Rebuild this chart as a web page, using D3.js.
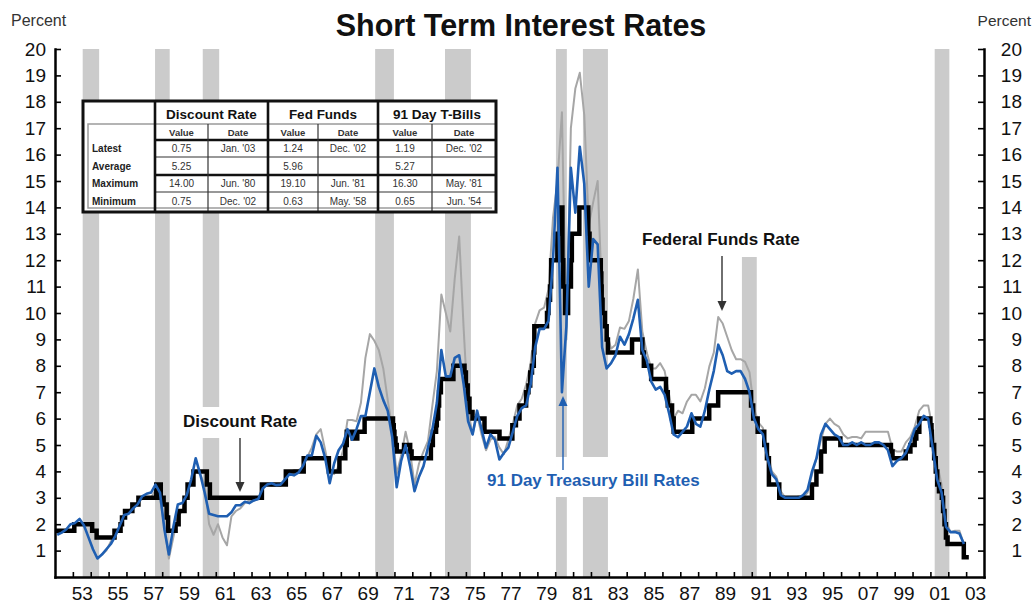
<!DOCTYPE html>
<html>
<head>
<meta charset="utf-8">
<script src="https://cdn.jsdelivr.net/npm/d3@7"></script>
<style>
  body { margin: 0; background: #fff; }
  svg { display: block; font-family: "Liberation Sans", Arial, Helvetica, sans-serif; }
</style>
</head>
<body>
<svg id="chart" width="1034" height="603"></svg>
<script>
// ---- data ----

// recession shading, decimal years
const recessionStart = [1953.55, 1957.6, 1960.27, 1969.92, 1973.83, 1980.04, 1981.55, 1990.45, 2001.24];
const recessionEnd   = [1954.47, 1958.42, 1961.19, 1970.97, 1975.28, 1980.65, 1982.95, 1991.28, 2002.06];

// discount rate: date of each change and the new level (step line)
const discountDates = [1952.0, 1953.08, 1954.08, 1954.33, 1955.33, 1955.67, 1955.75, 1955.92, 1956.33, 1956.67,
  1957.67, 1957.92, 1958.08, 1958.25, 1958.33, 1958.75, 1958.92, 1959.25, 1959.42, 1959.75,
  1960.5, 1960.67, 1963.58, 1964.92, 1965.92, 1967.33, 1967.92, 1968.25, 1968.33, 1968.67,
  1968.92, 1969.33, 1970.92, 1970.96, 1971.0, 1971.06, 1971.13, 1971.54, 1971.88, 1971.96,
  1973.04, 1973.15, 1973.33, 1973.37, 1973.45, 1973.5, 1973.6, 1974.3, 1974.92, 1975.0,
  1975.1, 1975.2, 1975.37, 1976.04, 1976.88, 1977.6, 1977.8, 1978.0, 1978.37, 1978.5,
  1978.6, 1978.7, 1978.8, 1978.83, 1979.54, 1979.62, 1979.71, 1979.77, 1980.12, 1980.25,
  1980.4, 1980.45, 1980.55, 1980.72, 1980.88, 1980.93, 1981.35, 1981.85, 1981.92, 1982.55,
  1982.58, 1982.6, 1982.65, 1982.78, 1982.88, 1982.95, 1984.3, 1984.88, 1984.96, 1985.37,
  1986.2, 1986.3, 1986.54, 1986.63, 1987.67, 1988.62, 1989.12, 1990.96, 1991.08, 1991.33,
  1991.7, 1991.85, 1991.96, 1992.54, 1994.37, 1994.62, 1994.88, 1995.08, 1995.96, 1998.79,
  1998.88, 1999.62, 1999.88, 2000.12, 2000.21, 2000.38, 2001.0, 2001.06, 2001.08, 2001.21,
  2001.3, 2001.38, 2001.48, 2001.64, 2001.71, 2001.79, 2001.87, 2001.96, 2002.87, 2003.15];
const discountRates = [1.75, 2.0, 1.75, 1.5, 1.75, 2.0, 2.25, 2.5, 2.75, 3.0,
  3.5, 3.0, 2.75, 2.25, 1.75, 2.0, 2.5, 3.0, 3.5, 4.0,
  3.5, 3.0, 3.5, 4.0, 4.5, 4.0, 4.5, 5.0, 5.5, 5.25,
  5.5, 6.0, 5.75, 5.5, 5.25, 5.0, 4.75, 5.0, 4.75, 4.5,
  5.0, 5.5, 5.75, 6.0, 6.5, 7.0, 7.5, 8.0, 7.75, 7.25,
  6.75, 6.25, 6.0, 5.5, 5.25, 5.75, 6.0, 6.5, 7.0, 7.25,
  7.75, 8.0, 8.5, 9.5, 10.0, 10.5, 11.0, 12.0, 13.0, 14.0,
  12.0, 11.0, 10.0, 11.0, 12.0, 13.0, 14.0, 13.0, 12.0, 11.5,
  11.0, 10.5, 10.0, 9.5, 9.0, 8.5, 9.0, 8.5, 8.0, 7.5,
  7.0, 6.5, 6.0, 5.5, 6.0, 6.5, 7.0, 6.5, 6.0, 5.5,
  5.0, 4.5, 3.5, 3.0, 3.5, 4.0, 4.75, 5.25, 5.0, 4.75,
  4.5, 4.75, 5.0, 5.25, 5.5, 6.0, 5.75, 5.5, 5.0, 4.5,
  4.0, 3.5, 3.25, 3.0, 2.5, 2.0, 1.5, 1.25, 0.75, 0.75];

// 91 day T-bill, quarterly from 1952 Q1
const tbillStart = 1952;
const tbillRates = [
  1.60, 1.68, 1.80, 2.00,  2.05, 2.20, 1.95, 1.50,  1.05, 0.70, 0.85, 1.05,  1.25, 1.55, 1.95, 2.35,
  2.40, 2.60, 2.75, 3.05,  3.15, 3.20, 3.50, 3.20,  1.80, 0.85, 1.90, 2.75,  2.80, 3.10, 3.70, 4.50,
  3.90, 3.20, 2.40, 2.35,  2.30, 2.30, 2.30, 2.45,  2.72, 2.72, 2.85, 2.80,  2.90, 2.95, 3.35, 3.50,
  3.55, 3.48, 3.50, 3.70,  3.90, 3.85, 3.95, 4.20,  4.60, 4.60, 5.35, 5.10,  4.50, 3.55, 4.30, 4.80,
  5.05, 5.60, 5.20, 5.60,  6.10, 6.10, 7.00, 7.90,  7.20, 6.70, 6.30, 5.30,  3.40, 4.40, 5.00, 4.20,
  3.25, 3.80, 4.20, 4.90,  5.60, 6.60, 8.60, 7.60,  7.60, 8.30, 8.40, 7.30,  5.90, 5.40, 6.30, 5.60,
  4.90, 5.40, 5.20, 4.45,  4.70, 4.90, 5.50, 6.10,  6.40, 6.50, 7.30, 8.70,  9.40, 9.40, 9.70, 12.00,
  15.50, 7.00, 9.50, 15.50,  13.80, 16.30, 14.90, 11.00,  12.80, 12.60, 8.70, 7.90,  8.10, 8.40, 9.10, 8.80,
  9.20, 9.80, 10.50, 8.60,  8.20, 7.40, 7.10, 7.20,  6.90, 6.20, 5.40, 5.30,  5.50, 5.70, 6.20, 5.80,
  5.70, 6.30, 7.10, 7.80,  8.80, 8.40, 7.80, 7.70,  7.80, 7.80, 7.50, 7.00,  6.00, 5.60, 5.40, 4.50,
  3.90, 3.70, 3.10, 3.00,  3.00, 3.00, 3.00, 3.10,  3.30, 4.00, 4.50, 5.40,  5.80, 5.60, 5.40, 5.30,
  5.00, 5.00, 5.10, 5.00,  5.10, 5.00, 5.00, 5.10,  5.10, 5.00, 4.80, 4.20,  4.40, 4.50, 4.70, 5.10,
  5.60, 5.80, 6.10, 6.00,  4.90, 3.70, 3.20, 1.90,  1.70, 1.70, 1.65, 1.25];

// fed funds, quarterly from 1954 Q3
const fedFundsStart = 1954.5;
const fedFundsRates = [
  0.85, 1.00,
  1.35, 1.55, 1.95, 2.35,  2.50, 2.70, 2.80, 2.95,  2.95, 3.00, 3.30, 3.00,  1.90, 0.70, 1.50, 2.30,
  2.50, 3.10, 3.60, 4.00,  3.90, 3.50, 2.00, 1.60,  2.00, 1.50, 1.20, 2.30,  2.50, 2.60, 2.80, 2.90,
  2.90, 2.95, 3.35, 3.50,  3.45, 3.45, 3.45, 3.60,  3.95, 4.05, 4.05, 4.15,  4.55, 4.90, 5.40, 5.60,
  4.80, 3.95, 3.90, 4.20,  4.80, 5.95, 5.95, 5.90,  6.60, 8.30, 9.20, 8.95,  8.60, 7.90, 6.70, 5.60,
  3.90, 4.60, 5.50, 4.75,  3.50, 4.30, 4.75, 5.15,  6.50, 7.80, 10.70, 10.00,  9.30, 11.30, 12.90, 9.40,
  6.30, 5.40, 6.15, 5.40,  4.80, 5.20, 5.30, 4.90,  4.65, 5.20, 5.80, 6.50,  6.75, 7.30, 8.10, 9.60,
  10.10, 10.20, 10.90, 13.60,  15.00, 17.60, 9.00, 17.00,  18.50, 19.10, 17.50, 13.30,  14.20, 15.00, 10.50, 9.30,
  8.65, 8.80, 9.45, 9.40,  9.70, 10.55, 11.65, 9.30,  8.50, 7.90, 7.90, 8.10,  7.80, 6.90, 6.00, 6.30,
  6.20, 6.65, 6.90, 6.90,  6.65, 7.15, 7.98, 8.50,  9.85, 9.60, 9.10, 8.60,  8.25, 8.25, 8.15, 7.75,
  6.40, 5.85, 5.65, 4.80,  4.00, 3.80, 3.25, 3.00,  3.00, 3.00, 3.05, 3.00,  3.20, 3.90, 4.50, 5.20,
  5.80, 6.00, 5.80, 5.70,  5.40, 5.25, 5.30, 5.30,  5.25, 5.50, 5.50, 5.50,  5.50, 5.50, 5.50, 4.85,
  4.75, 4.75, 5.10, 5.30,  5.70, 6.30, 6.50, 6.50,  5.60, 4.30, 3.50, 2.10,  1.70, 1.75, 1.75, 1.24];

// axis ticks
const yTicks = d3.range(1, 21);
const xTickYears = d3.range(1953, 2004);
const xLabelYears = d3.range(1953, 2004, 2);
const xLabels = ["53", "55", "57", "59", "61", "63", "65", "67", "69", "71", "73", "75", "77",
                 "79", "81", "83", "85", "87", "89", "91", "93", "95", "07", "99", "01", "03"];

// summary table
const tableGroups = ["Discount Rate", "Fed Funds", "91 Day T-Bills"];
const tableRows = ["Latest", "Average", "Maximum", "Minimum"];
const discountCells = [["0.75", "Jan. '03"], ["5.25", ""], ["14.00", "Jun. '80"], ["0.75", "Dec. '02"]];
const fedFundsCells = [["1.24", "Dec. '02"], ["5.96", ""], ["19.10", "Jun. '81"], ["0.63", "May. '58"]];
const tbillCells    = [["1.19", "Dec. '02"], ["5.27", ""], ["16.30", "May. '81"], ["0.65", "Jun. '54"]];

// ---- chart ----
const svg = d3.select("#chart");
const W = 1034, H = 603;
const plotLeft = 55, plotRight = 984, plotTop = 49, plotBottom = 577;

const x = d3.scaleLinear().domain([1952, 2004]).range([plotLeft, plotRight]);
const y = d3.scaleLinear().domain([0, 20]).range([plotBottom, plotTop]);

const blue = "#1f5fb2";

svg.append("rect").attr("width", W).attr("height", H).attr("fill", "#fff");

// recession bars
svg.append("g").selectAll("rect")
  .data(recessionStart.map((s, i) => ({ s, e: recessionEnd[i] })))
  .join("rect")
  .attr("x", d => x(d.s))
  .attr("width", d => x(d.e) - x(d.s))
  .attr("y", y(20))
  .attr("height", y(0) - y(20))
  .attr("fill", "#cbcbcb");

// white patches behind annotations
const patches = [[178, 407, 126, 31], [636, 49, 172, 208], [480, 464, 228, 33]];
svg.append("g").selectAll("rect").data(patches).join("rect")
  .attr("x", d => d[0]).attr("y", d => d[1]).attr("width", d => d[2]).attr("height", d => d[3])
  .attr("fill", "#fff");
// gap in the 1980-82 bars above the blue label
svg.append("rect").attr("x", 540).attr("y", 457).attr("width", 80).attr("height", 8).attr("fill", "#fff");

// series
const fedFunds = fedFundsRates.map((v, i) => ({ t: fedFundsStart + i * 0.25 + 0.125, v }));
const tbill = tbillRates.map((v, i) => ({ t: tbillStart + i * 0.25 + 0.125, v }));
const discount = discountDates.map((t, i) => ({ t, v: discountRates[i] }));

const line = d3.line().x(d => x(d.t)).y(d => y(d.v));

svg.append("path").datum(fedFunds)
  .attr("d", line)
  .attr("fill", "none").attr("stroke", "#a6a6a6").attr("stroke-width", 2)
  .attr("stroke-linejoin", "round");

svg.append("path").datum(discount)
  .attr("d", line.curve(d3.curveStepAfter))
  .attr("fill", "none").attr("stroke", "#000").attr("stroke-width", 4.5)
  .attr("stroke-linejoin", "miter");

line.curve(d3.curveLinear);
svg.append("path").datum(tbill)
  .attr("d", line)
  .attr("fill", "none").attr("stroke", blue).attr("stroke-width", 2.6)
  .attr("stroke-linejoin", "round");

// axes
const styleAxis = g => {
  g.select(".domain").attr("stroke", "#000").attr("stroke-width", 2.5).attr("stroke-linecap", "square");
  g.selectAll(".tick line").attr("stroke", "#000").attr("stroke-width", 1.6);
  g.selectAll(".tick text").attr("font-size", 19).attr("fill", "#111")
    .attr("font-family", "Liberation Sans, Arial, sans-serif");
};

svg.append("g")
  .attr("transform", `translate(${plotLeft},0)`)
  .call(d3.axisLeft(y).tickValues(yTicks).tickSizeInner(-6).tickSizeOuter(0).tickPadding(9))
  .call(styleAxis);

svg.append("g")
  .attr("transform", `translate(${plotRight},0)`)
  .call(d3.axisRight(y).tickValues(yTicks).tickSizeInner(-6).tickSizeOuter(0).tickPadding(9))
  .call(styleAxis)
  .call(g => g.selectAll(".tick text").attr("text-anchor", "end").attr("x", 38));

svg.append("g")
  .attr("transform", `translate(0,${plotBottom})`)
  .call(d3.axisBottom(x).tickValues(xTickYears).tickSizeInner(-5).tickSizeOuter(0).tickFormat(""))
  .call(styleAxis);

svg.append("g")
  .attr("transform", `translate(0,${plotBottom})`)
  .call(d3.axisBottom(x).tickValues(xLabelYears.map(d => d + 0.5)).tickSize(0).tickPadding(10)
    .tickFormat((d, i) => xLabels[i]))
  .call(styleAxis)
  .call(g => g.select(".domain").remove());

// titles
svg.append("text").attr("x", 521).attr("y", 36).attr("text-anchor", "middle")
  .attr("font-size", 30.5).attr("font-weight", "bold").attr("fill", "#111")
  .text("Short Term Interest Rates");
svg.append("text").attr("x", 11).attr("y", 26).attr("font-size", 16).attr("fill", "#333").text("Percent");
svg.append("text").attr("x", 1031).attr("y", 26).attr("text-anchor", "end")
  .attr("font-size", 15.5).attr("fill", "#333").text("Percent");

// annotations
const annot = svg.append("g").attr("font-size", 17).attr("font-weight", "bold");
annot.append("text").attr("x", 183).attr("y", 427).attr("fill", "#111").text("Discount Rate");
annot.append("text").attr("x", 642).attr("y", 245).attr("fill", "#111").text("Federal Funds Rate");
annot.append("text").attr("x", 487).attr("y", 486).attr("fill", blue).text("91 Day Treasury Bill Rates");

const arrow = (x0, y0, y1, color) => {
  const dir = y1 > y0 ? 1 : -1;
  svg.append("line").attr("x1", x0).attr("x2", x0).attr("y1", y0).attr("y2", y1 - dir * 9)
    .attr("stroke", color).attr("stroke-width", 1.4);
  svg.append("path")
    .attr("d", `M${x0 - 4.5},${y1 - dir * 10}L${x0 + 4.5},${y1 - dir * 10}L${x0},${y1}Z`)
    .attr("fill", color);
};
arrow(240, 438, 492, "#333");
arrow(722, 256, 311, "#333");
arrow(563, 470, 396, blue);

// summary table
const tb = svg.append("g");
const tx0 = 83, tx1 = 496, ty0 = 101, ty1 = 212;
const groupX = [155, 268, 378, 496];
const subX = [208, 318, 432];
const rowY = [148.5, 166, 183.5, 201.5];

tb.append("rect").attr("x", tx0).attr("y", ty0).attr("width", tx1 - tx0).attr("height", ty1 - ty0)
  .attr("fill", "#fff");
tb.append("path").attr("d", `M155,124H88V208H492`).attr("fill", "none")
  .attr("stroke", "#9c9c9c").attr("stroke-width", 1.5);

const hline = (yy, w, c) => tb.append("line").attr("x1", 155).attr("x2", tx1).attr("y1", yy).attr("y2", yy)
  .attr("stroke", c).attr("stroke-width", w);
hline(124, 1, "#666");
hline(140, 2.4, "#111");
hline(157, 1.2, "#333");
hline(175, 2.4, "#111");
hline(192, 1.2, "#333");

tb.selectAll("line.sub").data(subX).join("line").attr("class", "sub")
  .attr("x1", d => d).attr("x2", d => d).attr("y1", 124).attr("y2", ty1)
  .attr("stroke", "#333").attr("stroke-width", 1.2);
tb.selectAll("line.grp").data(groupX.slice(0, 3)).join("line").attr("class", "grp")
  .attr("x1", d => d).attr("x2", d => d).attr("y1", ty0).attr("y2", ty1)
  .attr("stroke", "#111").attr("stroke-width", 2.6);
tb.append("rect").attr("x", tx0).attr("y", ty0).attr("width", tx1 - tx0).attr("height", ty1 - ty0)
  .attr("fill", "none").attr("stroke", "#111").attr("stroke-width", 3);

tb.selectAll("text.grp").data(tableGroups).join("text").attr("class", "grp")
  .attr("x", (d, i) => (groupX[i] + groupX[i + 1]) / 2).attr("y", 119)
  .attr("text-anchor", "middle").attr("font-size", 13.5).attr("font-weight", "bold").attr("fill", "#111")
  .text(d => d);

const colCenters = [];
groupX.slice(0, 3).forEach((g, i) => {
  colCenters.push((g + subX[i]) / 2, (subX[i] + groupX[i + 1]) / 2);
});
tb.selectAll("text.hdr").data(colCenters).join("text").attr("class", "hdr")
  .attr("x", d => d).attr("y", 135.5).attr("text-anchor", "middle")
  .attr("font-size", 9.5).attr("font-weight", "bold").attr("fill", "#333")
  .text((d, i) => i % 2 ? "Date" : "Value");

tb.selectAll("text.row").data(tableRows).join("text").attr("class", "row")
  .attr("x", 92).attr("y", (d, i) => rowY[i] + 3.5)
  .attr("font-size", 10).attr("font-weight", "bold").attr("fill", "#222")
  .text(d => d);

[discountCells, fedFundsCells, tbillCells].forEach((cells, g) => {
  cells.forEach((pair, r) => {
    pair.forEach((txt, c) => {
      tb.append("text").attr("x", colCenters[g * 2 + c]).attr("y", rowY[r] + 3.5)
        .attr("text-anchor", "middle").attr("font-size", 10).attr("fill", "#333").text(txt);
    });
  });
});
</script>
</body>
</html>
